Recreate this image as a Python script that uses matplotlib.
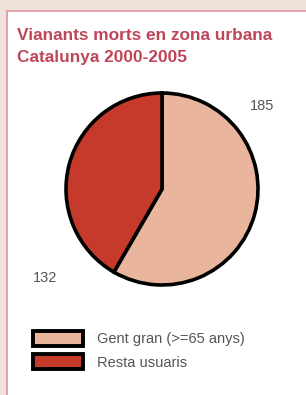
import matplotlib
matplotlib.use("Agg")
import matplotlib.pyplot as plt
from matplotlib.patches import Patch, Rectangle

# Data
labels = ["Gent gran (>=65 anys)", "Resta usuaris"]
values = [185, 132]
colors = ["#e9b59c", "#c53a2a"]
title_lines = ["Vianants morts en zona urbana", "Catalunya 2000-2005"]

W, H = 306, 395
fig = plt.figure(figsize=(W / 100, H / 100), dpi=100)
fig.patch.set_facecolor("white")
plt.rcParams["font.family"] = ["Liberation Sans", "DejaVu Sans"]

# frame: beige strips plus pink border line
fig.patches.append(Rectangle((0, 1 - 10 / H), 1, 10 / H, transform=fig.transFigure,
                             facecolor="#efe3db", edgecolor="none", zorder=0))
fig.patches.append(Rectangle((0, 0), 6 / W, 1, transform=fig.transFigure,
                             facecolor="#efe3db", edgecolor="none", zorder=0))
fig.patches.append(Rectangle((6 / W, 1 - 12 / H), 1, 2 / H, transform=fig.transFigure,
                             facecolor="#e2a4a8", edgecolor="none", zorder=1))
fig.patches.append(Rectangle((6 / W, 0), 2 / W, 1 - 10 / H, transform=fig.transFigure,
                             facecolor="#e2a4a8", edgecolor="none", zorder=1))

# title
fig.text(17 / W, 1 - 40 / H, title_lines[0], fontsize=12.4, fontweight="bold",
         color="#bf4658", ha="left", va="baseline")
fig.text(17 / W, 1 - 62 / H, title_lines[1], fontsize=12.4, fontweight="bold",
         color="#bf4658", ha="left", va="baseline")

# pie
cx, cy, half = 162, 189, 100
ax = fig.add_axes([(cx - half) / W, 1 - (cy + half) / H, 2 * half / W, 2 * half / H])
ax.pie(values, colors=colors, startangle=90, counterclock=False, radius=0.96,
       wedgeprops=dict(edgecolor="black", linewidth=2.6))
ax.set_xlim(-1, 1)
ax.set_ylim(-1, 1)
ax.set_aspect("equal")
ax.axis("off")

label_pos = [(1.0, 0.83), (-1.17, -0.89)]
for v, (x, y) in zip(values, label_pos):
    ax.text(x, y, str(v), fontsize=10.5, color="#555555", ha="center", va="center")

# legend
handles = [Patch(facecolor=c, edgecolor="black", linewidth=2.8) for c in colors]
fig.legend(handles, labels, loc="upper left", bbox_to_anchor=(33 / W, 1 - 331 / H),
           frameon=False, fontsize=10.5, labelcolor="#555555",
           handlelength=3.4, handleheight=1.2, handletextpad=1.0,
           labelspacing=0.55, borderpad=0, borderaxespad=0)

plt.savefig("out.png", dpi=100)
